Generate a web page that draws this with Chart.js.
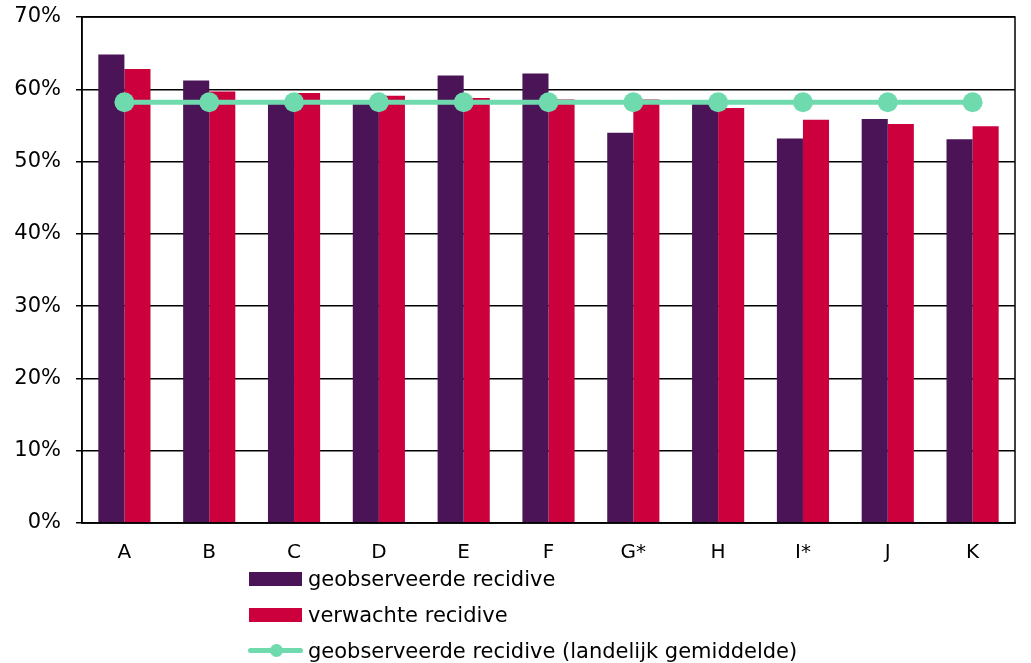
<!DOCTYPE html>
<html>
<head>
<meta charset="utf-8">
<script src="https://cdn.jsdelivr.net/npm/chart.js@4"></script>
<style>
  body { margin: 0; background: #fff; font-family: "DejaVu Sans", Verdana, sans-serif; }
  #wrap { position: relative; width: 1031px; height: 663px; }
  #chart { position: absolute; left: 0; top: 0; }
  #legend { position: absolute; left: 248px; top: 561px; }
  .item { position: relative; height: 36px; line-height: 36px; padding-left: 60px; font-size: 21px; color: #000; white-space: nowrap; }
  .swatch { position: absolute; left: 1px; top: 11px; width: 53px; height: 14px; }
  .lineSwatch { position: absolute; left: 0; top: 15px; width: 55px; height: 5px; border-radius: 3px; }
  .dot { position: absolute; left: 22px; top: 11px; width: 13px; height: 13px; border-radius: 50%; }
</style>
</head>
<body>
<div id="wrap">
  <canvas id="chart" width="1031" height="570"></canvas>
  <div id="legend"></div>
</div>
<script>
const categories = ['A', 'B', 'C', 'D', 'E', 'F', 'G*', 'H', 'I*', 'J', 'K'];
const geobserveerd = [64.8, 61.2, 58.3, 58.0, 61.9, 62.2, 54.0, 58.5, 53.2, 55.9, 53.1];
const verwacht = [62.8, 59.7, 59.5, 59.1, 58.8, 58.6, 58.6, 57.4, 55.8, 55.2, 54.9];
const landelijk = [58.2, 58.2, 58.2, 58.2, 58.2, 58.2, 58.2, 58.2, 58.2, 58.2, 58.2];
const yTicks = [0, 10, 20, 30, 40, 50, 60, 70];

const purple = '#4a1456';
const red = '#cc003d';
const green = '#6fdaae';

// box around the plot area
const frame = {
  id: 'frame',
  afterDraw(chart) {
    const a = chart.chartArea;
    const ctx = chart.ctx;
    ctx.save();
    ctx.strokeStyle = '#000';
    ctx.lineWidth = 1.5;
    ctx.strokeRect(a.left, a.top, a.right - a.left, a.bottom - a.top);
    ctx.restore();
  }
};

const chart = new Chart(document.getElementById('chart'), {
  type: 'bar',
  data: {
    labels: categories,
    datasets: [
      {
        label: 'geobserveerde recidive',
        data: geobserveerd,
        backgroundColor: purple,
        order: 1
      },
      {
        label: 'verwachte recidive',
        data: verwacht,
        backgroundColor: red,
        order: 1
      },
      {
        type: 'line',
        label: 'geobserveerde recidive (landelijk gemiddelde)',
        data: landelijk,
        borderColor: green,
        backgroundColor: green,
        borderWidth: 5,
        pointRadius: 10,
        pointHoverRadius: 10,
        pointBorderWidth: 0,
        order: 0
      }
    ]
  },
  options: {
    responsive: false,
    animation: false,
    layout: { padding: { top: 17, right: 16, left: 0, bottom: 0 } },
    datasets: {
      bar: { categoryPercentage: 0.615, barPercentage: 1 }
    },
    plugins: {
      legend: { display: false },
      tooltip: { enabled: false }
    },
    scales: {
      x: {
        grid: { display: false },
        border: { display: true, color: '#000', width: 1.5 },
        ticks: { color: '#000', padding: 10, font: { family: 'DejaVu Sans', size: 20 } },
        afterFit(scale) { scale.height = 47; scale.paddingLeft = 0; scale.paddingRight = 0; }
      },
      y: {
        min: 0,
        max: 70,
        afterBuildTicks(scale) { scale.ticks = yTicks.map(v => ({ value: v })); },
        grid: { color: '#000', lineWidth: 1.5, tickLength: 6 },
        border: { display: true, color: '#000', width: 1.5 },
        ticks: {
          color: '#000',
          padding: 15,
          font: { family: 'DejaVu Sans', size: 21 },
          callback: v => v + '%'
        },
        afterFit(scale) { scale.width = 82; scale.paddingTop = 0; scale.paddingBottom = 0; }
      }
    }
  },
  plugins: [frame]
});

const legend = document.getElementById('legend');
chart.data.datasets.forEach(function(ds) {
  const item = document.createElement('div');
  item.className = 'item';
  if (ds.type === 'line') {
    item.innerHTML = '<span class="lineSwatch" style="background:' + ds.borderColor + '"></span>' +
      '<span class="dot" style="background:' + ds.borderColor + '"></span>';
  } else {
    item.innerHTML = '<span class="swatch" style="background:' + ds.backgroundColor + '"></span>';
  }
  item.appendChild(document.createTextNode(ds.label));
  legend.appendChild(item);
});
</script>
</body>
</html>
